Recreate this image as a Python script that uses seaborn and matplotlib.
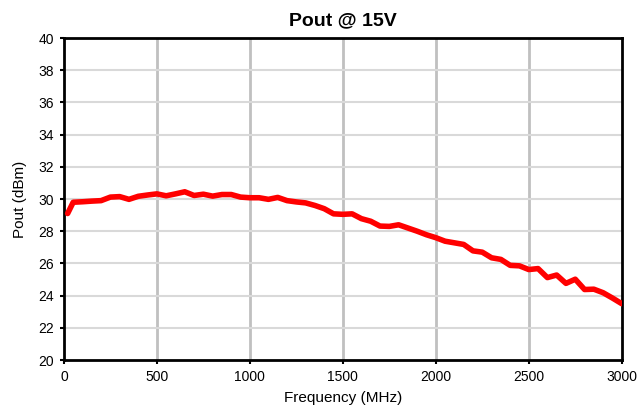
import numpy as np
import pandas as pd
import matplotlib
matplotlib.use("Agg")
import matplotlib.pyplot as plt
import seaborn as sns

# Pout vs frequency
freq_mhz = [20, 50, 100, 150, 200, 250, 300, 350, 400, 450, 500, 550, 600, 650, 700,
            750, 800, 850, 900, 950, 1000, 1050, 1100, 1150, 1200, 1250, 1300, 1350,
            1400, 1450, 1500, 1550, 1600, 1650, 1700, 1750, 1800, 1850, 1900, 1950,
            2000, 2050, 2100, 2150, 2200, 2250, 2300, 2350, 2400, 2450, 2500, 2550,
            2600, 2650, 2700, 2750, 2800, 2850, 2900, 2950, 3000]
pout_dbm = [29.1, 29.8, 29.83, 29.87, 29.9, 30.12, 30.15, 29.98, 30.17, 30.25, 30.32,
            30.2, 30.32, 30.45, 30.22, 30.3, 30.18, 30.28, 30.28, 30.12, 30.08, 30.08,
            29.98, 30.1, 29.9, 29.82, 29.76, 29.6, 29.4, 29.08, 29.05, 29.08, 28.78,
            28.62, 28.32, 28.3, 28.4, 28.2, 28.0, 27.78, 27.6, 27.38, 27.28, 27.18,
            26.78, 26.7, 26.35, 26.25, 25.88, 25.85, 25.62, 25.68, 25.12, 25.28, 24.76,
            25.02, 24.38, 24.4, 24.18, 23.85, 23.5]

df = pd.DataFrame({"Frequency (MHz)": freq_mhz, "Pout (dBm)": pout_dbm})

sns.set_style("white")
plt.rcParams["font.family"] = ["Liberation Sans", "DejaVu Sans"]
plt.rcParams.update({"text.color": "black", "axes.labelcolor": "black",
                     "xtick.color": "black", "ytick.color": "black"})

fig = plt.figure(figsize=(6.39, 4.11), dpi=100)
ax = fig.add_axes([0.1, 0.124, 0.873, 0.7835])

sns.lineplot(data=df, x="Frequency (MHz)", y="Pout (dBm)", ax=ax,
             color="#ff0000", linewidth=4, zorder=3)

ax.set_xlim(0, 3000)
ax.set_ylim(20, 40)
ax.set_xticks(np.arange(0, 3001, 500))
ax.set_yticks(np.arange(20, 41, 2))

# vertical grid darker than horizontal grid
for xv in np.arange(500, 3000, 500):
    ax.axvline(xv, color="#c0c0c0", linewidth=2, zorder=1)
for yv in np.arange(22, 40, 2):
    ax.axhline(yv, color="#d9d9d9", linewidth=1.5, zorder=1)

for s in ax.spines.values():
    s.set_visible(True)
    s.set_color("black")
    s.set_linewidth(2)

ax.tick_params(axis="both", direction="out", length=3, width=1.5, color="black",
               labelcolor="black", labelsize=10, pad=4, bottom=True, left=True)
ax.set_xlabel("Frequency (MHz)", fontsize=11, labelpad=5)
ax.set_ylabel("Pout (dBm)", fontsize=11, labelpad=8)
ax.set_title("Pout @ 15V", fontsize=14, fontweight="bold", pad=9, color="black")

fig.savefig("out.png", dpi=100)
